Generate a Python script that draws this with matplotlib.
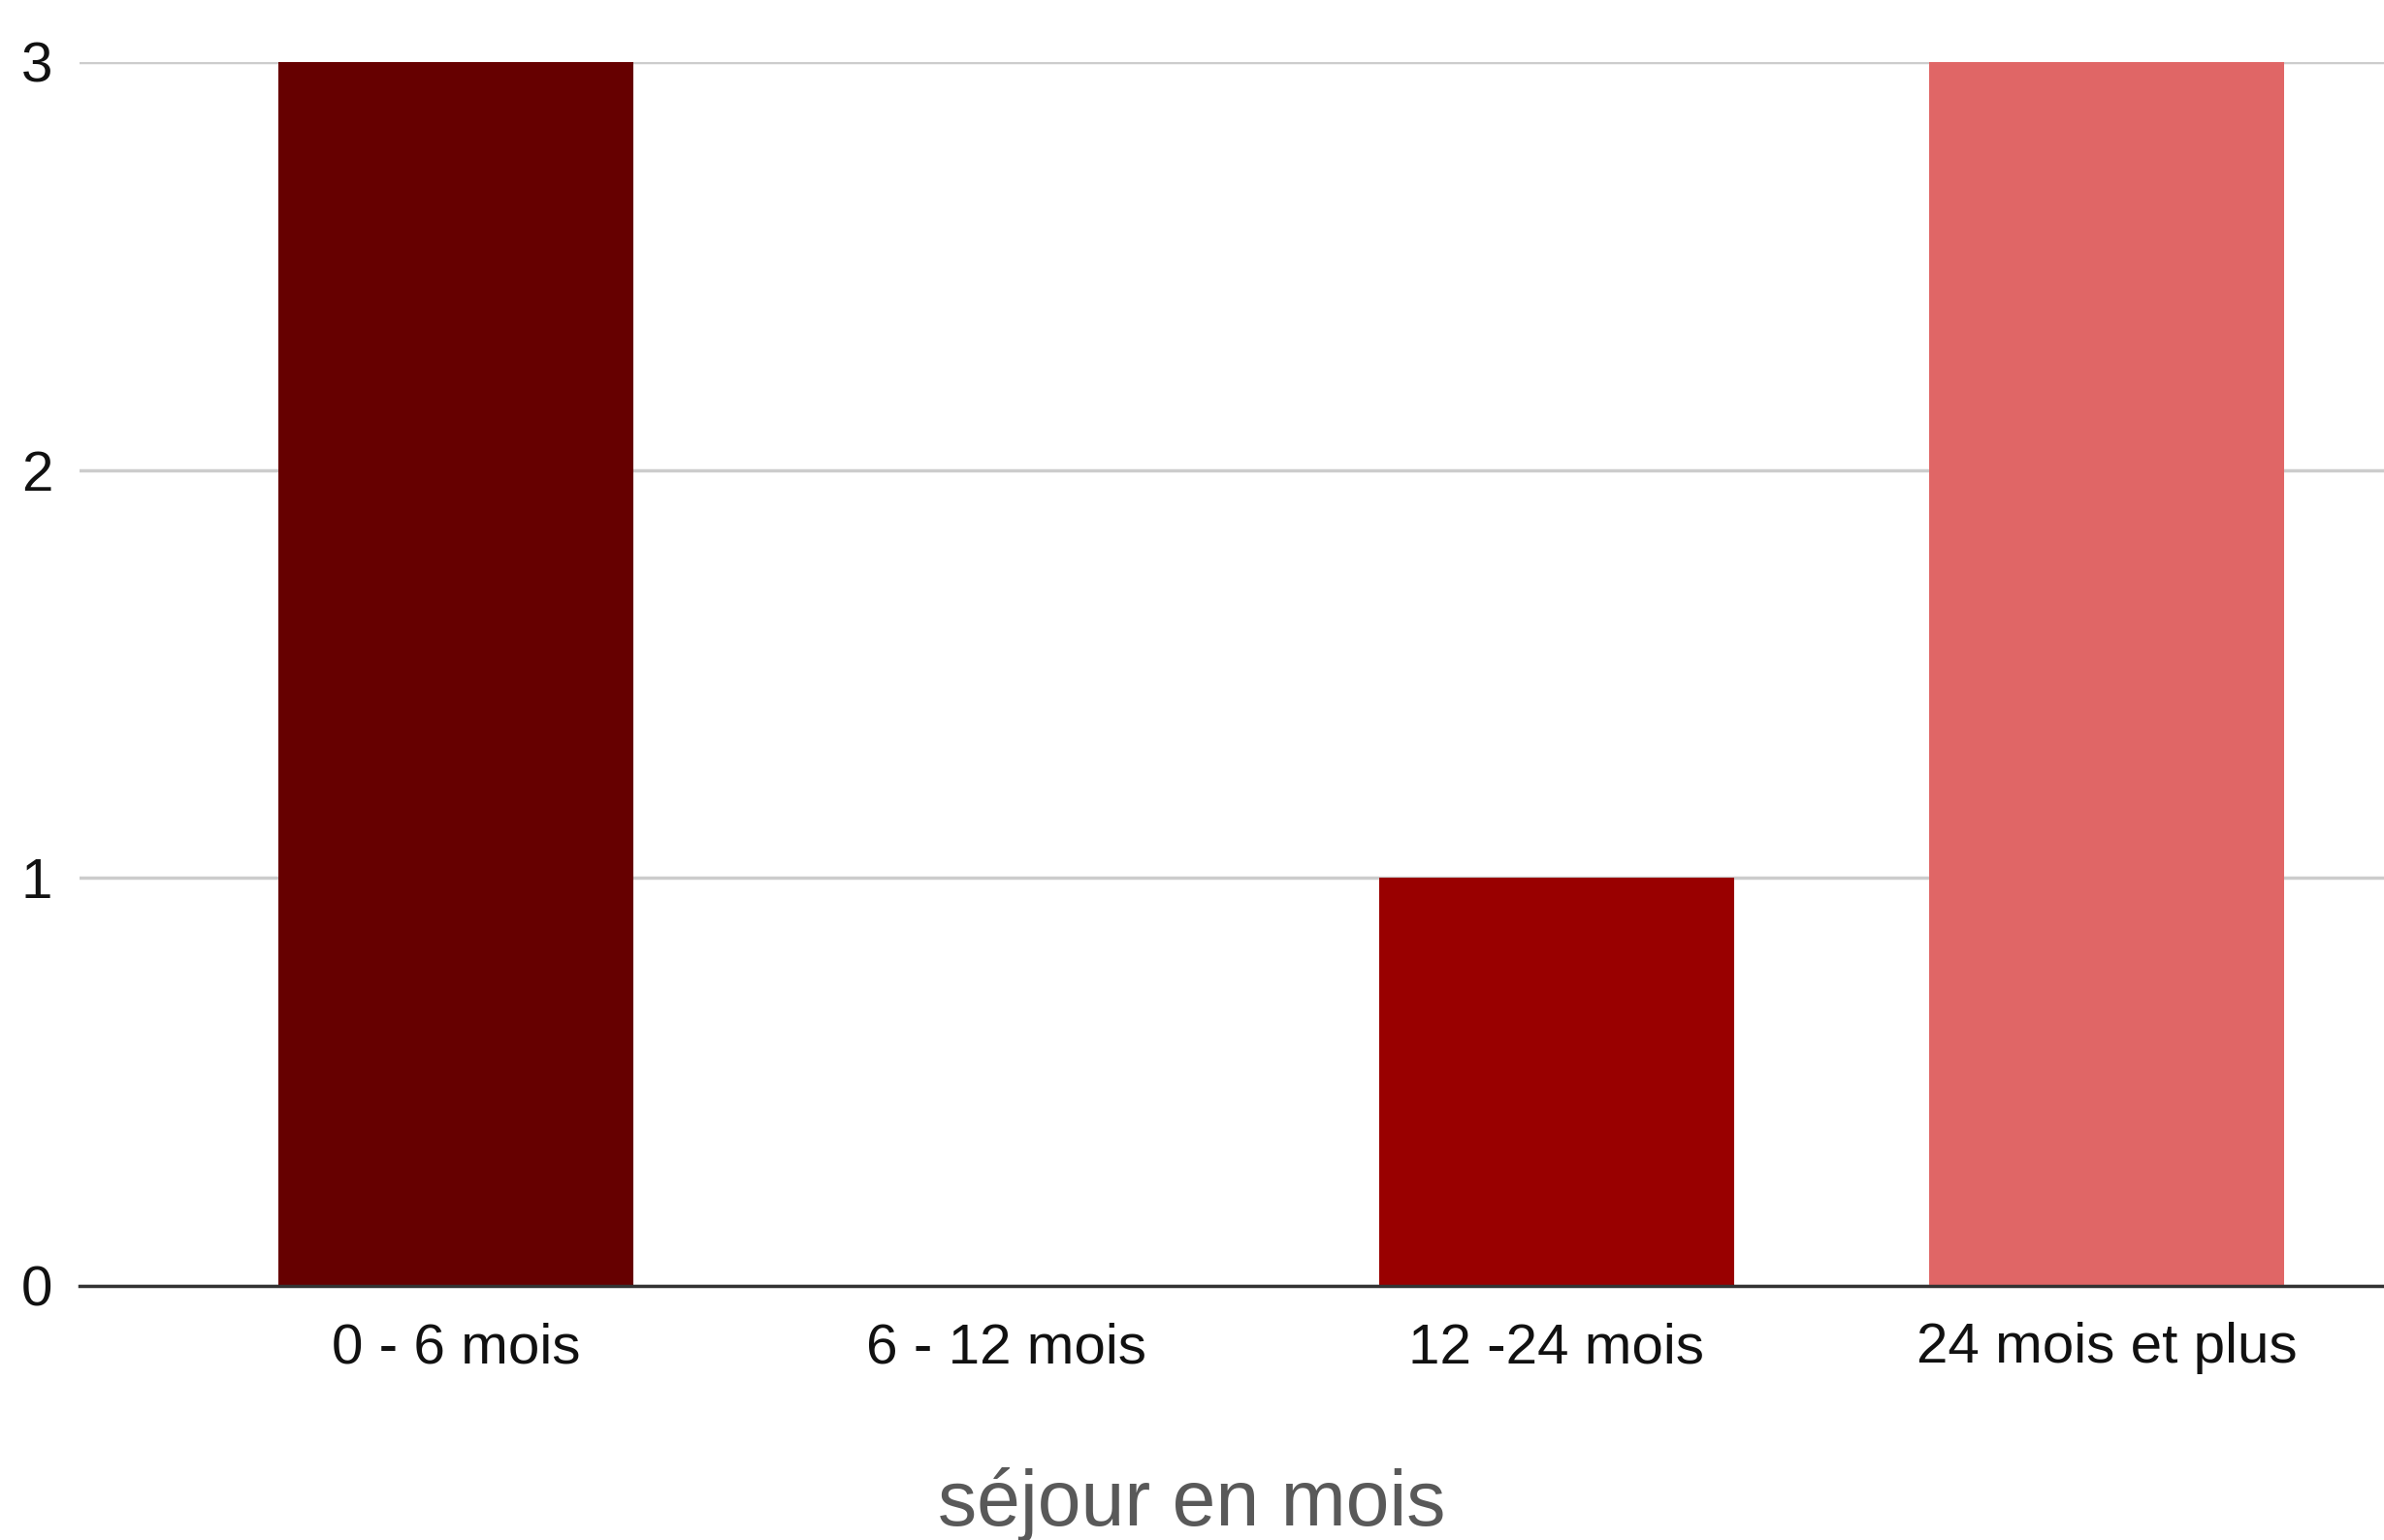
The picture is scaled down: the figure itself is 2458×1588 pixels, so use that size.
import matplotlib.pyplot as plt

# Data
categories = ['0 - 6 mois', '6 - 12 mois', '12 -24 mois', '24 mois et plus']
values = [3, 0, 1, 3]
colors = ['#660000', '#cc0000', '#990000', '#e06666']

plt.rcParams['font.family'] = ['Liberation Sans', 'DejaVu Sans']

fig = plt.figure(figsize=(24.58, 15.88), dpi=100)
ax = fig.add_axes([0.0334, 0.165, 0.9666, 0.7947])

x = range(len(categories))
ax.bar(x, values, width=0.646, color=colors, zorder=3)

ax.set_xlim(-0.684, 3.504)
ax.set_ylim(0, 3)
ax.set_yticks([0, 1, 2, 3])
ax.set_xticks(list(x))
ax.set_xticklabels(categories)

ax.grid(axis='y', color='#cccccc', linewidth=2.5, zorder=0)
ax.set_axisbelow(True)
for s in ['top', 'right', 'left']:
    ax.spines[s].set_visible(False)
ax.spines['bottom'].set_color('#333333')
ax.spines['bottom'].set_linewidth(2.5)
ax.spines['bottom'].set_zorder(4)

ax.tick_params(axis='both', length=0, labelsize=42, colors='#111111')
ax.tick_params(axis='x', pad=27)
ax.tick_params(axis='y', pad=20)

# axis title centred on the whole figure, as in the original
fig.text(0.5, 0.0227, 'séjour en mois', fontsize=58, color='#595959',
         ha='center', va='center')

fig.savefig('out.png', dpi=100)
